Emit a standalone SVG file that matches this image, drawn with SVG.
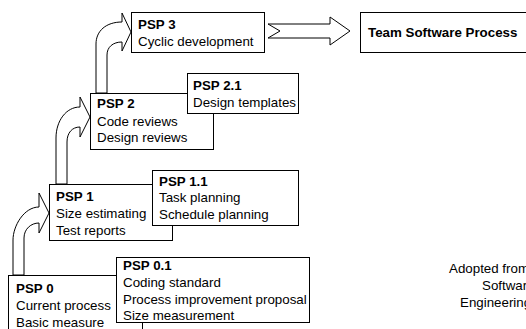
<svg xmlns="http://www.w3.org/2000/svg" width="526" height="329" viewBox="0 0 526 329">
<style>
  .box { fill: #fff; stroke: #000; stroke-width: 1; }
  .arr { fill: #fff; stroke: #000; stroke-width: 1; stroke-linejoin: miter; }
  text { font-family: "Liberation Sans", Arial, sans-serif; font-size: 13.33px; fill: #000; }
  .b { font-weight: bold; }
</style>
<rect width="526" height="329" fill="#fff"/>
<g id="connectors">
  <path class="arr" d="M13 275 L13 240 C13 226 24 207 39 207 L39 193 L49 213 L39 233 L39 223 C31 223 24 229 24 238 L24 275 Z"/>
  <path class="arr" d="M56 184 L56 138 C56 121 66 107 80 107 L80 97 L90 117 L80 137 L80 127 C72 127 67 133 67 142 L67 184 Z"/>
  <path class="arr" d="M96 93 L96 44 C96 31 106 22 122 22 L122 13 L131 32 L122 51 L122 42 C113 42 107 47 107 55 L107 93 Z"/>
  <path class="arr" d="M268 24 L330 24 L330 17 L350 31 L330 45 L330 38 L268 38 L280 31 Z"/>
</g>
<g id="psp0">
  <rect class="box" x="8.5" y="275.5" width="134" height="60"/>
  <text x="16" y="293" class="b">PSP 0</text>
  <text x="16" y="310">Current process</text>
  <text x="16" y="327">Basic measure</text>
</g>
<g id="psp01">
  <rect class="box" x="116.5" y="257.5" width="193" height="65"/>
  <text x="123" y="270" class="b">PSP 0.1</text>
  <text x="123" y="287">Coding standard</text>
  <text x="123" y="304">Process improvement proposal</text>
  <text x="123" y="320">Size measurement</text>
</g>
<g id="psp1">
  <rect class="box" x="49.5" y="184.5" width="123" height="56"/>
  <text x="56" y="201" class="b">PSP 1</text>
  <text x="56" y="218">Size estimating</text>
  <text x="56" y="235">Test reports</text>
</g>
<g id="psp11">
  <rect class="box" x="152.5" y="170.5" width="146" height="55"/>
  <text x="159" y="186" class="b">PSP 1.1</text>
  <text x="159" y="202">Task planning</text>
  <text x="159" y="219">Schedule planning</text>
</g>
<g id="psp2">
  <rect class="box" x="90.5" y="93.5" width="123" height="56"/>
  <text x="97" y="108" class="b">PSP 2</text>
  <text x="97" y="126">Code reviews</text>
  <text x="97" y="142">Design reviews</text>
</g>
<g id="psp21">
  <rect class="box" x="187.5" y="73.5" width="111" height="40"/>
  <text x="193" y="90" class="b">PSP 2.1</text>
  <text x="193" y="107">Design templates</text>
</g>
<g id="psp3">
  <rect class="box" x="131.5" y="12.5" width="133" height="40"/>
  <text x="138" y="29" class="b">PSP 3</text>
  <text x="138" y="46">Cyclic development</text>
</g>
<g id="tsp">
  <rect class="box" x="360.5" y="12.5" width="170" height="40"/>
  <text x="368" y="37" class="b">Team Software Process</text>
</g>
<g id="note">
  <text x="449" y="273">Adopted from</text>
  <text x="482" y="290">Software</text>
  <text x="460" y="307">Engineering</text>
</g>
</svg>
